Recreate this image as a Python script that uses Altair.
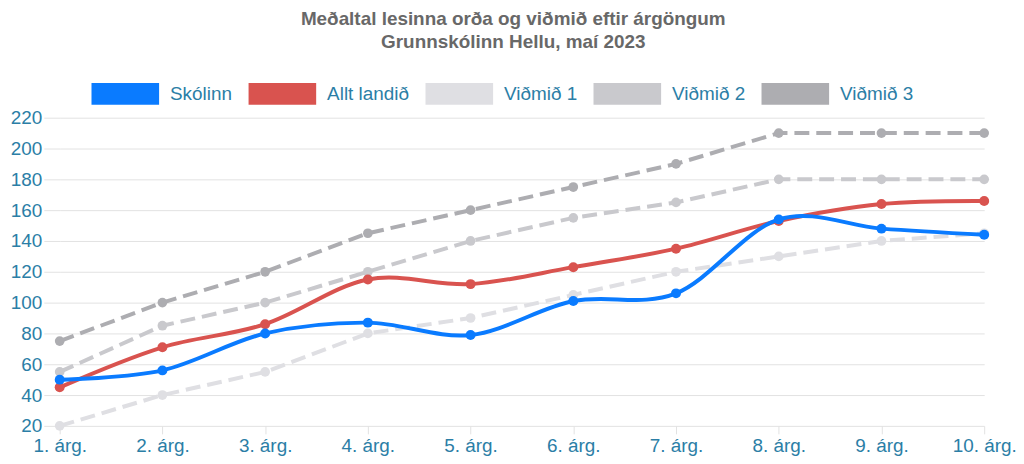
import altair as alt
import pandas as pd

grades = ["1. árg.", "2. árg.", "3. árg.", "4. árg.", "5. árg.",
          "6. árg.", "7. árg.", "8. árg.", "9. árg.", "10. árg."]
skolinn = [50, 56, 80, 87, 79, 101, 106, 154, 148, 144]
allt_landid = [45, 71, 86, 115, 112, 123, 135, 153, 164, 166]
vidmid1 = [20, 40, 55, 80, 90, 105, 120, 130, 140, 145]
vidmid2 = [55, 85, 100, 120, 140, 155, 165, 180, 180, 180]
vidmid3 = [75, 100, 120, 145, 160, 175, 190, 210, 210, 210]

series_names = ["Skólinn", "Allt landið", "Viðmið 1", "Viðmið 2", "Viðmið 3"]
series_colors = ["#0a7bff", "#d9534f", "#dfdfe3", "#c9c9cd", "#adadb1"]
series_values = [skolinn, allt_landid, vidmid1, vidmid2, vidmid3]

rows = []
for name, vals in zip(series_names, series_values):
    for g, v in zip(grades, vals):
        rows.append({"grade": g, "value": v, "series": name})
df = pd.DataFrame(rows)

FONT = "Liberation Sans"
GRID = "#e2e2e2"
LABEL = "#2b7ea6"

cscale = alt.Scale(domain=series_names, range=series_colors)
legend = alt.Legend(
    title=None,
    orient="none",
    legendX=21,
    legendY=-69,
    direction="horizontal",
    gridAlign="each",
    symbolType="M-1,0H1",
    symbolSize=4624,
    symbolStrokeWidth=22,
    symbolOpacity=1,
    labelFontSize=19,
    labelFont=FONT,
    labelColor=LABEL,
    labelOffset=0,
    columnPadding=-28,
)
color = alt.Color("series:N", scale=cscale, legend=legend)

x = alt.X(
    "grade:N",
    sort=grades,
    scale=alt.Scale(type="point", padding=0),
    axis=alt.Axis(title=None, labelAngle=0, labelFontSize=19, labelFont=FONT,
                  labelColor=LABEL, tickSize=8, tickColor=GRID, domain=False,
                  gridColor=GRID, labelPadding=3),
)
y = alt.Y(
    "value:Q",
    scale=alt.Scale(domain=[20, 220], nice=False, zero=False),
    axis=alt.Axis(title=None, values=list(range(20, 221, 20)), labelFontSize=19,
                  labelFont=FONT, labelColor=LABEL, tickSize=16, tickColor=GRID,
                  domain=False, gridColor=GRID, labelPadding=2),
)

base = alt.Chart(df).encode(x=x, y=y, color=color)


def only(names):
    return alt.FieldOneOfPredicate(field="series", oneOf=names)


layers = []
for name in ["Viðmið 3", "Viðmið 2", "Viðmið 1"]:
    layers.append(base.transform_filter(only([name])).mark_line(
        strokeDash=[15, 7], strokeWidth=4))
    layers.append(base.transform_filter(only([name])).mark_circle(size=95, opacity=1))
for name in ["Allt landið", "Skólinn"]:
    layers.append(base.transform_filter(only([name])).mark_line(
        interpolate="cardinal", tension=0, strokeWidth=4))
    layers.append(base.transform_filter(only([name])).mark_circle(size=100, opacity=1))

chart = alt.layer(*layers).properties(
    width=930,
    height=310,
    padding={"left": 52, "top": 109, "right": 32, "bottom": 36},
    autosize=alt.AutoSizeParams(type="none"),
    title=alt.TitleParams(
        text=["Meðaltal lesinna orða og viðmið eftir árgöngum",
              "Grunnskólinn Hellu, maí 2023"],
        fontSize=19, fontWeight="bold", color="#686868", font=FONT,
        lineHeight=23, anchor="middle", frame="bounds", offset=-3,
    ),
).configure_view(stroke=None)

chart.save("out.html", embed_options={"renderer": "svg", "actions": False})
